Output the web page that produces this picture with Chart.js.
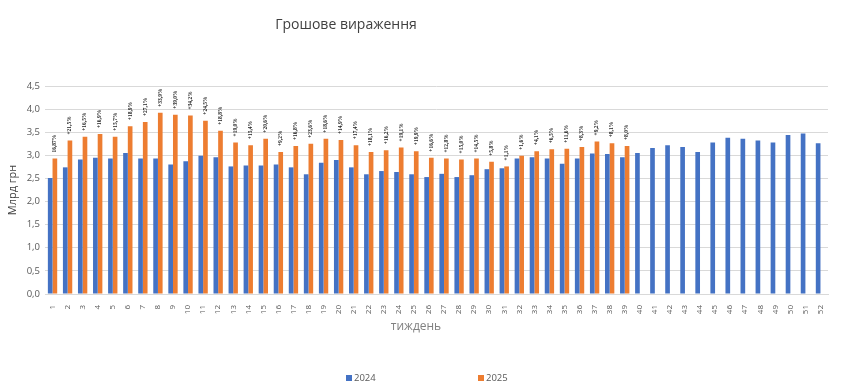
<!DOCTYPE html>
<html>
<head>
<meta charset="utf-8">
<script src="https://cdn.jsdelivr.net/npm/chart.js@4"></script>
<style>
  html, body { margin: 0; padding: 0; background: #fff; }
  #wrap { width: 850px; height: 391px; }
</style>
</head>
<body>
<div id="wrap"><canvas id="chart" width="850" height="391"></canvas></div>
<script>
var weeks = [];
for (var w = 1; w <= 52; w++) weeks.push(String(w));

var values2024 = [2.51, 2.74, 2.91, 2.95, 2.93, 3.05, 2.93, 2.93, 2.80, 2.87,
    2.99, 2.96, 2.76, 2.78, 2.78, 2.80, 2.74, 2.59, 2.84, 2.90,
    2.74, 2.59, 2.66, 2.64, 2.59, 2.53, 2.60, 2.53, 2.57, 2.70,
    2.72, 2.93, 2.96, 2.93, 2.82, 2.93, 3.04, 3.03, 2.96, 3.05,
    3.16, 3.22, 3.18, 3.07, 3.28, 3.38, 3.36, 3.32, 3.28, 3.44,
    3.47, 3.26];

var values2025 = [2.93, 3.32, 3.40, 3.46, 3.40, 3.63, 3.72, 3.92, 3.88, 3.86,
    3.75, 3.53, 3.28, 3.22, 3.36, 3.07, 3.20, 3.25, 3.36, 3.33,
    3.22, 3.07, 3.11, 3.17, 3.09, 2.95, 2.93, 2.91, 2.93, 2.86,
    2.76, 2.99, 3.09, 3.13, 3.14, 3.18, 3.30, 3.26, 3.20];

var pctLabels = ['16,87%', '+21,5%', '+16,5%', '+16,9%', '+15,7%', '+18,9%', '+27,1%', '+33,9%', '+39,0%', '+34,2%',
    '+24,5%', '+18,8%', '+19,0%', '+15,4%', '+20,6%', '+9,2%', '+16,8%', '+23,6%', '+18,6%', '+14,9%',
    '+17,4%', '+18,1%', '+16,2%', '+19,1%', '+19,9%', '+16,6%', '+12,8%', '+15,0%', '+14,5%', '+5,8%',
    '+1,1%', '+1,6%', '+4,1%', '+6,5%', '+11,6%', '+8,3%', '+9,2%', '+8,1%', '+8,0%'];

var seriesNames = ['2024', '2025'];
var seriesColors = ['#4472C4', '#ED7D31'];

// percent labels above the orange bars
const pctPlugin = {
    id: 'pctPlugin',
    afterDatasetsDraw(chart) {
        const {ctx} = chart;
        const meta = chart.getDatasetMeta(1);
        ctx.save();
        ctx.font = 'bold 5.5px "Liberation Serif"';
        ctx.fillStyle = '#262626';
        ctx.textAlign = 'left';
        ctx.textBaseline = 'middle';
        pctLabels.forEach(function(txt, i) {
            const bar = meta.data[i];
            if (!bar) return;
            ctx.save();
            ctx.translate(bar.x, bar.y - 6);
            ctx.rotate(-Math.PI / 2);
            ctx.fillText(txt, 0, 0);
            ctx.restore();
        });
        ctx.restore();
    }
};

// off-centre title, axis title and spread-out legend, like the original
const titleLegend = {
    id: 'titleLegend',
    afterDraw(chart) {
        const {ctx} = chart;
        ctx.save();
        ctx.font = '14px "Open Sans"';
        ctx.fillStyle = '#404040';
        ctx.textAlign = 'center';
        ctx.textBaseline = 'middle';
        ctx.fillText('Грошове вираження', 346, 25);

        ctx.font = '12px "Open Sans"';
        ctx.fillStyle = '#808080';
        ctx.fillText('тиждень', 416, 327);

        ctx.font = '9.5px "Open Sans"';
        ctx.textAlign = 'left';
        const xs = [346, 478];
        seriesNames.forEach(function(name, i) {
            ctx.fillStyle = seriesColors[i];
            ctx.fillRect(xs[i], 375, 6, 6);
            ctx.fillStyle = '#595959';
            ctx.fillText(name, xs[i] + 8, 378.5);
        });
        ctx.restore();
    }
};

new Chart(document.getElementById('chart').getContext('2d'), {
    type: 'bar',
    data: {
        labels: weeks,
        datasets: [{
            label: seriesNames[0],
            data: values2024,
            backgroundColor: seriesColors[0],
            categoryPercentage: 0.62,
            barPercentage: 1.0
        }, {
            label: seriesNames[1],
            data: values2025,
            backgroundColor: seriesColors[1],
            categoryPercentage: 0.62,
            barPercentage: 1.0
        }]
    },
    plugins: [pctPlugin, titleLegend],
    options: {
        responsive: false,
        animation: false,
        layout: {padding: {left: 5, right: 22, top: 86, bottom: 53}},
        plugins: {
            legend: {display: false},
            title: {display: false},
            tooltip: {enabled: false}
        },
        scales: {
            x: {
                grid: {display: false},
                border: {color: '#D9D9D9'},
                ticks: {
                    color: '#595959',
                    font: {family: 'Open Sans', size: 8},
                    minRotation: 90,
                    maxRotation: 90,
                    autoSkip: false,
                    padding: 3
                },
                afterFit: function(scale) { scale.height = 44; }
            },
            y: {
                min: 0,
                max: 4.5,
                grid: {color: '#D9D9D9', drawTicks: false},
                border: {display: false},
                ticks: {
                    stepSize: 0.5,
                    padding: 5,
                    color: '#595959',
                    font: {family: 'Open Sans', size: 9.5},
                    callback: function(v) { return v.toFixed(1).replace('.', ','); }
                },
                title: {
                    display: true,
                    text: 'Млрд грн',
                    color: '#404040',
                    font: {family: 'Open Sans', size: 11},
                    padding: {top: 1, bottom: 2}
                },
                afterFit: function(scale) { scale.width = 40; }
            }
        }
    }
});
</script>
</body>
</html>
